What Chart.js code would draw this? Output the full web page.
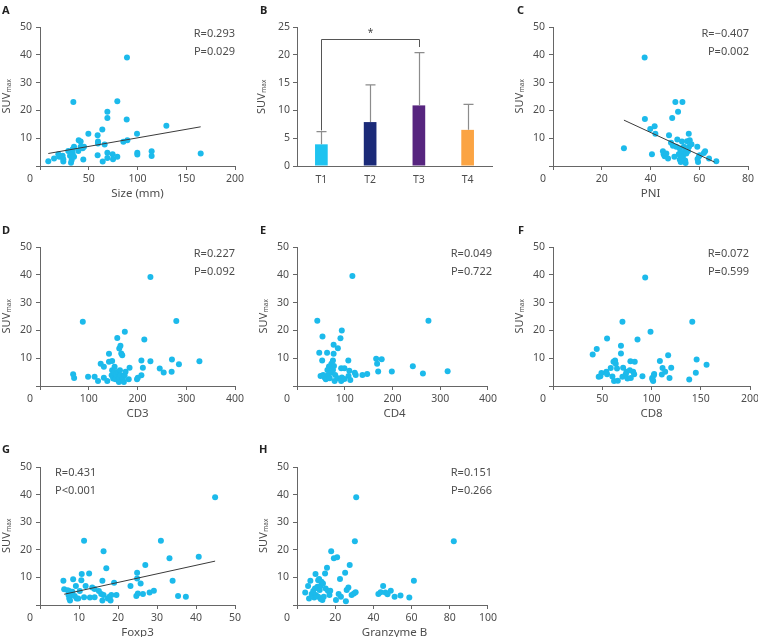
<!DOCTYPE html>
<html><head><meta charset="utf-8">
<script src="https://cdn.jsdelivr.net/npm/chart.js@4/dist/chart.umd.min.js"></script>
<style>
html,body{margin:0;padding:0;background:#fff;width:758px;height:637px;overflow:hidden;position:relative}
canvas{position:absolute}
</style></head><body>
<script>
// ---------- DATA ----------
const sizeMM = [8.5,14.4,18.8,19.8,23.2,23.9,23.9,29,30.8,31.8,32.5,33.5,33.5,34.9,34.2,34.9,39.3,39.7,41.7,41.7,43.8,44.4,45.1,49.6,59.1,59.1,59.5,59.5,63.9,64.3,66.3,69.1,69.1,69.1,69.1,74.5,74.9,79.3,79.3,85.5,88.9,89.2,89.6,99.5,99.8,99.8,114.5,114.5,129.6,164.8];
const sizeSUV = [1.7,2.7,4.2,3.3,3.7,2.4,1.6,5.4,3.7,1.2,2.2,4.5,6.0,6.9,23,3.3,5.4,9.3,6.9,8.8,6.4,2.3,6.9,11.6,3.9,11.1,8.8,8.1,13.1,1.6,7.7,19.5,17.3,4.8,2.9,4.2,2.4,23.3,3.3,8.7,16.7,39,9.3,11.6,4.8,4.1,5.3,3.6,14.5,4.5];
const sizeFit = [[8.5,4.5],[164.8,14.1]];

const stageLabels = ['T1','T2','T3','T4'];
const stageMean = [3.9, 7.9, 10.9, 6.5];
const stageSD = [2.3, 6.7, 9.5, 4.6];
const stageSig = {from:0, to:2, level:22.8, mark:'*'};

const pniX = [29.1,37.6,37.7,39.9,41.7,42,40.6,45.1,45.4,45.8,46.5,47.2,47.6,48.4,48.9,49.2,49.8,50.2,50.6,51,51.3,51.6,52,52,52.2,52.4,52.9,53.1,53.3,53.7,53.9,54.2,54.4,54.7,55,55.4,55.7,55.8,56.1,56.8,59.2,59.3,59.5,60.2,61.9,62.4,64,67,59.9];
const pniSUV = [6.4,39,16.9,13.3,14.3,11.6,4.2,5.3,4.2,3.5,4.5,2.7,11.1,8.4,17.3,7.3,3.3,23,6.9,9.5,19.5,4.2,6.3,2.3,4.7,1.4,8.8,23,3.3,6.9,5.1,2.0,1.1,4.5,8.9,5.4,11.6,6.9,9.3,7.8,6.9,2.5,1.4,3.9,4.7,5.3,2.7,1.7,3.5];
const pniFit = [[29.1,16.5],[66.3,1.4]];

const cd3X = [68,70,87.8,98.6,112,119,124.5,131,131,138,141.5,141.5,147,148,148,150,151.7,153,155,155,156.5,158.5,160,161.9,161.9,162.6,164,165,165,166.7,168.7,170,172,173.5,174,175.5,182,183.7,199,200.7,208,208,211,214,226.5,226.5,245.6,253.7,270,270.7,279.6,285,327];
const cd3SUV = [4.2,2.9,23.1,3.3,3.3,1.8,8.0,6.9,3.0,1.8,8.7,11.6,3.9,5.7,9.0,2.7,5.1,6.9,3.3,2.4,4.2,17.3,5.1,3.0,1.4,13.5,5.7,3.9,14.5,11.7,11.1,2.7,1.4,3.9,19.5,5.1,2.4,6.6,2.4,3.0,3.9,9.2,6.6,16.7,8.9,39.2,6.3,4.9,5.1,9.5,23.4,7.8,8.9];

const cd4X = [42.5,53.4,93.8,91,76.7,85.6,46.6,63,76.7,52.7,75.3,107.5,72,77.4,165.8,177.4,167.8,170,198.6,67,63.7,54.8,49.3,58,60.3,65,72,75.3,80,68.5,78.8,85.6,92.5,99.3,94,99.3,108,109.6,111.6,121,123,137,147,92.5,116,242.6,263.7,275.3,315.5];
const cd4SUV = [23.5,17.8,20,17.2,14.8,13.6,12,12,11.6,9.2,9.2,9.2,8,7.2,9.8,9.6,8,5.2,5.2,7,5.8,4,3.6,3.1,2.4,4,4.8,5.8,4,2.8,1.8,2.8,6.4,6.4,3.1,2.5,3.6,5.5,2.2,4.8,4,4,4.3,1.8,39.6,7.1,4.5,23.5,5.3];

const cd8X = [40.3,44.4,46.4,48.1,49.2,54.2,54.9,54.9,58.6,60.3,61.4,62,63,63.7,65,65.8,69,69,70.5,70.5,71.2,73.9,74.6,75.6,78,78.6,79,81.4,82.4,83,85.8,90.8,93.6,99,100.7,101,101.7,102.4,102.7,108.5,110.5,111.2,113.9,116.9,118.3,120,138.3,141.4,145,145.8,155.9];
const cd8SUV = [11.3,13.3,3.3,3.5,4.7,5.1,17.1,4.2,6.5,3.4,8.7,1.8,9.2,8.0,6.3,1.9,14.5,11.7,23.1,3.3,6.6,4.2,5.1,2.7,5.7,8.9,2.9,5.1,4.2,8.7,16.7,3.5,39,19.5,2.9,2.3,1.8,3.9,4.3,9.0,4.1,6.5,5.1,11.1,2.9,6.6,2.3,23.1,4.8,9.5,7.6];

const foxp3X = [6.0,6.2,7.1,7.3,7.5,7.5,7.7,7.9,8.3,8.5,8.9,9.2,9.4,9.8,10.2,10.6,10.7,11.3,11.3,11.7,12.6,12.8,13.4,14,14,15.1,15.7,16,16,16.3,16.3,17,17.4,17.8,18.1,18.3,19,19.6,23.2,24.7,24.9,24.9,25.1,25.8,26.4,27,28.1,29.2,31,33.2,34,35.4,37.4,40.7,44.9];
const foxp3SUV = [8.8,5.7,5.3,3.6,5.1,2.4,1.6,3.6,4.8,9.3,3.3,6.9,2.4,2.4,5.1,9.0,11.2,23.3,2.8,6.9,11.4,2.7,6.3,2.8,5.8,5.1,4.0,8.8,1.6,19.5,3.6,13.3,2.4,3.0,1.6,3.6,8.1,3.6,6.9,3.3,9.6,11.7,4.2,7.8,4.0,14.5,4.5,5.2,23.3,16.9,8.8,3.3,3.0,17.5,39];
const foxp3Fit = [[6.2,3.9],[44.9,15.9]];

const gzmbX = [4.3,5.8,6.3,7,7.7,8.5,9,9.4,9.7,9.9,10.7,11.1,11.1,11.6,11.9,12.3,12.4,12.8,13.3,13.6,14,14.7,15,15.7,16.2,17,17.4,17.9,19.3,20.4,21,21.8,22.5,23,25.2,25.6,26,26.9,27.6,28.6,29.8,30.3,30.7,31,42.6,43.8,45.1,46.3,47.4,49.1,51.1,54.2,58.8,61.2,82.1];
const gzmbSUV = [4.5,6.9,2.4,8.8,4.0,5.1,2.7,6.0,11.2,3.6,6.6,9.0,3.0,9.4,5.4,6.9,2.2,8.4,1.8,7.8,3.0,11.4,6.0,13.5,5.2,3.6,5.2,19.5,16.9,1.8,17.3,4.0,9.4,3.0,11.7,1.4,5.4,6.3,14.5,3.6,4.2,23.1,4.6,39,4.0,4.6,6.9,4.5,3.9,5.2,3.0,3.4,2.7,8.8,23.1];

// ---------- STYLE ----------
const FONT = "'Noto Sans', 'DejaVu Sans', sans-serif";
const AXC = '#666666', TXT = '#4d4d4d', DOT = '#1CBAEB';
const stageColors = ['#1EC3F0', '#1B2A78', '#57257F', '#FBA443'];

function mkCanvas(r) {
  const c = document.createElement('canvas');
  c.width = r.w; c.height = r.h;
  c.style.left = r.l + 'px'; c.style.top = r.t + 'px';
  c.style.width = r.w + 'px'; c.style.height = r.h + 'px';
  document.body.appendChild(c);
  return c;
}

function textPlugin(items, cr) {
  return { id: 'txt', afterDraw(chart) {
    const ctx = chart.ctx;
    for (const it of items) {
      ctx.save();
      ctx.fillStyle = it.color || TXT;
      ctx.textBaseline = 'middle';
      if (it.suv) {
        ctx.translate(it.x - cr.l, it.y - cr.t);
        ctx.rotate(-Math.PI / 2);
        ctx.font = `11px ${FONT}`;
        const w1 = ctx.measureText('SUV').width;
        ctx.font = `6.5px ${FONT}`;
        const w2 = ctx.measureText('max').width;
        const s = -(w1 + w2) / 2;
        ctx.textAlign = 'left';
        ctx.font = `11px ${FONT}`;
        ctx.fillText('SUV', s, 0);
        ctx.font = `6.5px ${FONT}`;
        ctx.fillText('max', s + w1 + 0.5, 2.5);
      } else {
        ctx.font = it.font || `11px ${FONT}`;
        ctx.textAlign = it.align || 'center';
        ctx.fillText(it.text, it.x - cr.l, it.y - cr.t);
      }
      ctx.restore();
    }
  }};
}

function axisCommon(tickPad) {
  return {
    grid: { display: true, drawOnChartArea: false, drawTicks: true, tickLength: 4, color: AXC, tickColor: AXC, lineWidth: 1 },
    border: { display: true, color: AXC, width: 1 },
    ticks: { color: TXT, font: { family: FONT, size: 10.5 }, padding: tickPad, autoSkip: false, maxRotation: 0 }
  };
}

function scatterPanel(o) {
  const cr = o.canvas, a = o.area;
  const c = mkCanvas(cr);
  const datasets = [{ data: o.xs.map((x, i) => ({ x, y: o.ys[i] })), backgroundColor: DOT, pointRadius: 3, borderWidth: 0, order: 2 }];
  if (o.fit) datasets.push({ data: o.fit.map(p => ({ x: p[0], y: p[1] })), showLine: true, pointRadius: 0, borderColor: '#3a3a3a', borderWidth: 1, fill: false, order: 1 });
  const xAx = axisCommon(3), yAx = axisCommon(4);
  Object.assign(xAx, { type: 'linear', min: 0, max: o.xmax, afterFit: s => { s.height = (cr.t + cr.h) - a.b; } });
  xAx.ticks.stepSize = o.xstep; xAx.ticks.callback = v => v === 0 ? '' : v;
  Object.assign(yAx, { type: 'linear', min: 0, max: 50, afterFit: s => { s.width = a.l - cr.l; } });
  yAx.ticks.stepSize = 10; yAx.ticks.callback = v => v === 0 ? '' : v;
  const items = [
    { text: o.letter, x: o.letterPos[0], y: o.letterPos[1], font: `bold 11px ${FONT}`, align: 'left', color: '#222' },
    { suv: true, x: a.l - 33, y: (a.t + a.b) / 2 },
    { text: '0', x: a.l - 10, y: a.b + 13, font: `10.5px ${FONT}` },
    { text: o.xtitle, x: (a.l + a.r) / 2, y: a.b + 28, font: `11.5px ${FONT}` },
    { text: o.r, x: o.rPos[0], y: o.rPos[1], align: o.rAlign },
    { text: o.p, x: o.rPos[0], y: o.rPos[1] + 18, align: o.rAlign }
  ];
  new Chart(c, {
    type: 'scatter',
    data: { datasets },
    options: {
      responsive: false, animation: false, events: [],
      layout: { padding: { left: 0, top: a.t - cr.t, right: (cr.l + cr.w) - a.r, bottom: 0 } },
      plugins: { legend: { display: false }, tooltip: { enabled: false } },
      scales: { x: xAx, y: yAx }
    },
    plugins: [textPlugin(items, cr)]
  });
}

// ---- Panel B (bars) ----
(function () {
  const cr = { l: 250, t: 0, w: 250, h: 210 }, a = { l: 297, r: 492, t: 27, b: 166 };
  const c = mkCanvas(cr);
  const xAx = axisCommon(8), yAx = axisCommon(3);
  xAx.grid.drawTicks = false;
  Object.assign(xAx, { afterFit: s => { s.height = (cr.t + cr.h) - a.b; } });
  Object.assign(yAx, { min: 0, max: 25, afterFit: s => { s.width = a.l - cr.l; } });
  yAx.ticks.stepSize = 5;
  const errPlugin = { id: 'err', afterDatasetsDraw(chart) {
    const ctx = chart.ctx, xs = chart.scales.x, ys = chart.scales.y;
    ctx.save();
    ctx.strokeStyle = '#8c8c8c'; ctx.lineWidth = 1.2;
    stageMean.forEach((m, i) => {
      const x = Math.round(xs.getPixelForValue(i)) + 0.5;
      const y0 = ys.getPixelForValue(m), y1 = ys.getPixelForValue(m + stageSD[i]);
      ctx.beginPath(); ctx.moveTo(x, y0); ctx.lineTo(x, y1);
      ctx.moveTo(x - 5, y1); ctx.lineTo(x + 5, y1); ctx.stroke();
    });
    const xa = Math.round(xs.getPixelForValue(stageSig.from)) + 0.5, xb = Math.round(xs.getPixelForValue(stageSig.to)) + 0.5;
    const yl = Math.round(ys.getPixelForValue(stageSig.level)) + 0.5;
    const ya = ys.getPixelForValue(stageMean[stageSig.from] + stageSD[stageSig.from] + 0.2);
    const yb = ys.getPixelForValue(stageMean[stageSig.to] + stageSD[stageSig.to] + 1);
    ctx.strokeStyle = '#555'; ctx.lineWidth = 1;
    ctx.beginPath(); ctx.moveTo(xa, ya); ctx.lineTo(xa, yl); ctx.lineTo(xb, yl); ctx.lineTo(xb, yb); ctx.stroke();
    ctx.fillStyle = '#444'; ctx.font = `10px ${FONT}`; ctx.textAlign = 'center'; ctx.textBaseline = 'middle';
    ctx.fillText(stageSig.mark, (xa + xb) / 2, yl - 6);
    ctx.restore();
  }};
  const items = [
    { text: 'B', x: 260, y: 11, font: `bold 11px ${FONT}`, align: 'left', color: '#222' },
    { suv: true, x: 262, y: 97 }
  ];
  new Chart(c, {
    type: 'bar',
    data: { labels: stageLabels, datasets: [{ data: stageMean, backgroundColor: stageColors, barPercentage: 0.26, categoryPercentage: 1, borderWidth: 0 }] },
    options: {
      responsive: false, animation: false, events: [],
      layout: { padding: { left: 0, top: a.t - cr.t, right: (cr.l + cr.w) - a.r, bottom: 0 } },
      plugins: { legend: { display: false }, tooltip: { enabled: false } },
      scales: { x: xAx, y: yAx }
    },
    plugins: [errPlugin, textPlugin(items, cr)]
  });
})();

scatterPanel({ canvas: { l: 0, t: 0, w: 250, h: 210 }, area: { l: 40, r: 235, t: 27, b: 166 }, xs: sizeMM, ys: sizeSUV, fit: sizeFit,
  xmax: 200, xstep: 50, letter: 'A', letterPos: [2, 11], xtitle: 'Size (mm)', r: 'R=0.293', p: 'P=0.029', rPos: [235, 34], rAlign: 'right' });
scatterPanel({ canvas: { l: 500, t: 0, w: 265, h: 210 }, area: { l: 553, r: 748, t: 27, b: 166 }, xs: pniX, ys: pniSUV, fit: pniFit,
  xmax: 80, xstep: 20, letter: 'C', letterPos: [517, 11], xtitle: 'PNI', r: 'R=\u22120.407', p: 'P=0.002', rPos: [749, 34], rAlign: 'right' });
scatterPanel({ canvas: { l: 0, t: 215, w: 250, h: 210 }, area: { l: 40, r: 235, t: 247, b: 386 }, xs: cd3X, ys: cd3SUV,
  xmax: 400, xstep: 100, letter: 'D', letterPos: [2, 231], xtitle: 'CD3', r: 'R=0.227', p: 'P=0.092', rPos: [235, 254], rAlign: 'right' });
scatterPanel({ canvas: { l: 250, t: 215, w: 250, h: 210 }, area: { l: 297, r: 492, t: 247, b: 386 }, xs: cd4X, ys: cd4SUV,
  xmax: 400, xstep: 100, letter: 'E', letterPos: [260, 231], xtitle: 'CD4', r: 'R=0.049', p: 'P=0.722', rPos: [492, 254], rAlign: 'right' });
scatterPanel({ canvas: { l: 500, t: 215, w: 265, h: 210 }, area: { l: 553, r: 750, t: 247, b: 386 }, xs: cd8X, ys: cd8SUV,
  xmax: 200, xstep: 50, letter: 'F', letterPos: [518, 231], xtitle: 'CD8', r: 'R=0.072', p: 'P=0.599', rPos: [749, 254], rAlign: 'right' });
scatterPanel({ canvas: { l: 0, t: 425, w: 250, h: 212 }, area: { l: 40, r: 235, t: 467, b: 605 }, xs: foxp3X, ys: foxp3SUV, fit: foxp3Fit,
  xmax: 50, xstep: 10, letter: 'G', letterPos: [2, 450], xtitle: 'Foxp3', r: 'R=0.431', p: 'P<0.001', rPos: [55, 473], rAlign: 'left' });
scatterPanel({ canvas: { l: 250, t: 425, w: 250, h: 212 }, area: { l: 297, r: 492, t: 467, b: 605 }, xs: gzmbX, ys: gzmbSUV,
  xmax: 100, xstep: 20, letter: 'H', letterPos: [259, 450], xtitle: 'Granzyme B', r: 'R=0.151', p: 'P=0.266', rPos: [492, 473], rAlign: 'right' });
</script>
</body></html>
